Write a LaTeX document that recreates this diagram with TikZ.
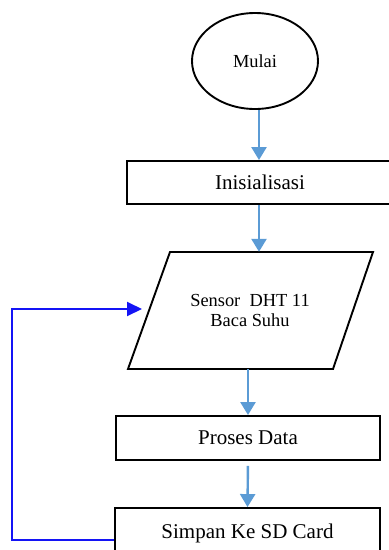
\documentclass[tikz,border=0pt]{standalone}
\usepackage{fontspec}
\setmainfont{Liberation Serif}
\usetikzlibrary{shapes.geometric,arrows.meta}
\definecolor{flowblue}{RGB}{91,155,213}
\definecolor{loopblue}{RGB}{20,20,245}
\tikzset{
  box/.style={draw=black,line width=1.9pt,rectangle,inner sep=0pt,font=\fontsize{21}{25}\selectfont},
  flow/.style={draw=flowblue,line width=2.4pt,-{Triangle[length=13pt,width=15pt,fill=flowblue]}},
  back/.style={draw=loopblue,line width=2pt,-{Triangle[length=15pt,width=14pt,fill=loopblue]}},
}
\begin{document}
\begin{tikzpicture}[x=1pt,y=-1pt]
\useasboundingbox (0,0) rectangle (389,550);
\clip (0,0) rectangle (389,550);
\node[draw=black,line width=1.9pt,ellipse,minimum width=126pt,minimum height=96pt,inner sep=0pt,font=\fontsize{18.4}{22}\selectfont] (mulai) at (255,61) {Mulai};
\node[box,minimum width=266pt,minimum height=43pt] (init) at (260,182.5) {Inisialisasi};
% parallelogram
\coordinate (p1) at (170,252);
\coordinate (p2) at (373,252);
\coordinate (p3) at (333,369);
\coordinate (p4) at (128,369);
\draw[line width=1.9pt,line join=miter] (p1) -- (p2) -- (p3) -- (p4) -- cycle;
\node[minimum height=117pt,inner sep=0pt,align=center,font=\fontsize{18.4}{20}\selectfont] (sensor) at (250,310.5) {Sensor\ \ DHT 11\\Baca Suhu};
\node[box,minimum width=264pt,minimum height=44pt] (proc) at (248,438) {Proses Data};
\node[box,minimum width=265pt,minimum height=50pt] (save) at (247.5,533) {Simpan Ke SD Card};
% connectors
\draw[flow] (mulai.south -| init.north) ++(-1,0) coordinate (a1s) -- (a1s |- init.north);
\draw[flow] ([xshift=-1pt]init.south) -- ([xshift=-1pt]init.south |- sensor.north);
\draw[flow] (proc.north |- sensor.south) -- (proc.north);
\draw[flow,shorten <=5pt] (proc.south) -- (save.north);
\coordinate (lb) at (12,540);
\coordinate (lt) at (12,309);
\coordinate (lend) at (142,309);
\draw[back,line join=miter] (save.west |- lb) -- (lb) -- (lt) -- (lend);
\end{tikzpicture}
\end{document}
